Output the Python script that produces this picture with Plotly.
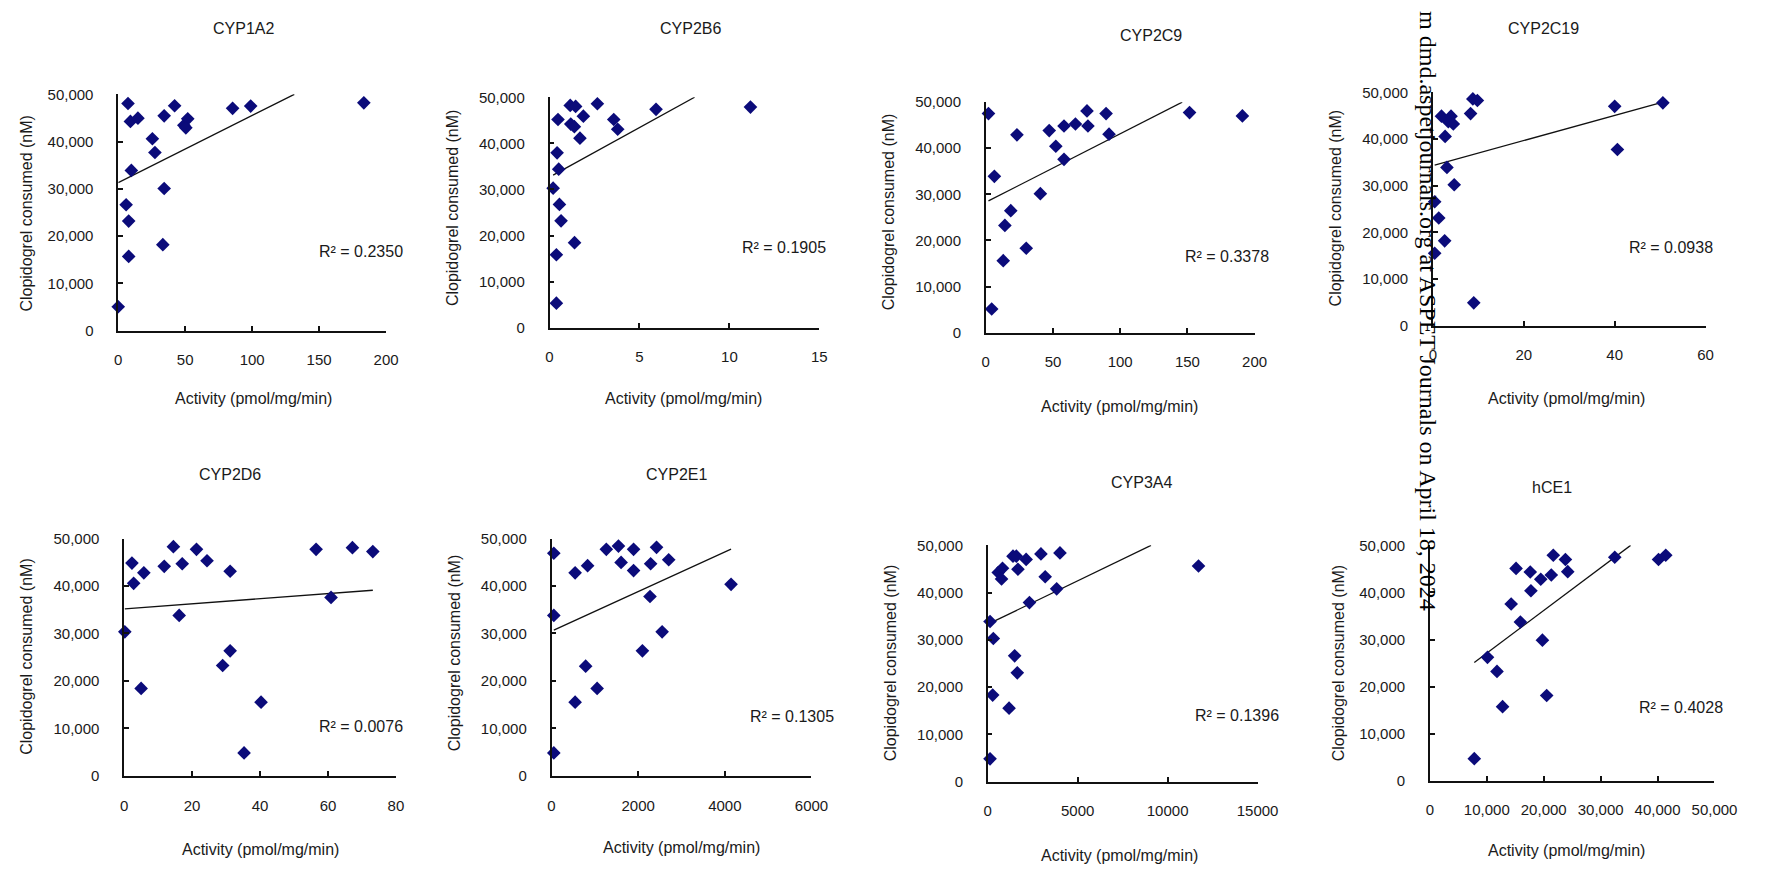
import plotly.graph_objects as go

W, H = 1768, 875

# ---------------- data ----------------
panel_titles = ["CYP1A2", "CYP2B6", "CYP2C9", "CYP2C19", "CYP2D6", "CYP2E1", "CYP3A4", "hCE1"]

x_cyp1a2 = [7.3, 9.1, 14.7, 42.1, 34.3, 25.5, 27.4, 9.8, 34.3, 5.9, 7.8, 33.3, 7.8, 0.0, 49.0, 51.9, 50.5, 85.4, 98.9, 183.4]
y_cyp1a2 = [48060, 44260, 44950, 47580, 45440, 40600, 37690, 33890, 30080, 26630, 23170, 18190, 15700, 5050, 43430, 44810, 42900, 47030, 47510, 48200]

x_cyp2b6 = [1.15, 1.45, 2.66, 1.88, 0.47, 1.18, 1.38, 1.69, 3.57, 3.79, 5.92, 11.17, 0.42, 0.51, 0.2, 0.55, 0.64, 1.39, 0.38, 0.38]
y_cyp2b6 = [48230, 48010, 48580, 45890, 45180, 44180, 43620, 41130, 45180, 43050, 47380, 47870, 37940, 34400, 30280, 26740, 23190, 18440, 15820, 5320]

x_cyp2c9 = [2, 6.4, 23.2, 18.6, 14.2, 13, 30.1, 4.4, 40.6, 47.2, 52.1, 58.2, 58.2, 66.7, 75.3, 76, 89.5, 91.7, 151.6, 190.9]
y_cyp2c9 = [47520, 33900, 42910, 26450, 23260, 15600, 18300, 5110, 30140, 43830, 40430, 44820, 37590, 45250, 48090, 44820, 47520, 43050, 47730, 47020]

x_cyp2c19 = [8.8, 9.8, 8.3, 1.9, 4.0, 3.4, 4.5, 2.7, 3.1, 4.7, 0.4, 1.3, 2.6, 0.4, 9.0, 40.0, 40.6, 50.6]
y_cyp2c19 = [48600, 48250, 45450, 44900, 44900, 43700, 43220, 40560, 33920, 30210, 26570, 23080, 18180, 15520, 4900, 47000, 37760, 47760]

x_cyp2d6 = [0.2, 2.3, 2.8, 5.8, 5.0, 11.8, 14.5, 17.1, 16.2, 21.3, 24.4, 31.2, 29.0, 31.2, 40.3, 35.3, 56.5, 60.9, 67.2, 73.2]
y_cyp2d6 = [30340, 44830, 40550, 42760, 18410, 44140, 48280, 44690, 33790, 47720, 45310, 43100, 23240, 26340, 15520, 4830, 47720, 37590, 48070, 47240]

x_cyp2e1 = [53, 53, 53, 545, 833, 545, 788, 1053, 1265, 1545, 1606, 1894, 1894, 2424, 2288, 2705, 2273, 2098, 2553, 4144]
y_cyp2e1 = [46900, 33790, 4830, 42760, 44280, 15520, 23100, 18410, 47720, 48410, 44970, 47720, 43240, 48140, 44690, 45520, 37790, 26340, 30340, 40340]

x_cyp3a4 = [128, 310, 274, 128, 584, 821, 767, 1405, 1590, 1679, 2135, 2957, 4015, 3194, 3832, 2318, 1496, 1643, 1186, 11717]
y_cyp3a4 = [33890, 30290, 18330, 4840, 44260, 45160, 42880, 47720, 47720, 44950, 47030, 48200, 48410, 43360, 40800, 37900, 26630, 23030, 15560, 45640]

x_hce1 = [7800, 10120, 11790, 12770, 14280, 15140, 15900, 17630, 17750, 19480, 19770, 20520, 21330, 21680, 23810, 24220, 32480, 40170, 41440]
y_hce1 = [4690, 26220, 23220, 15730, 37550, 45100, 33710, 44340, 40350, 42800, 29860, 18110, 43710, 47900, 46990, 44410, 47480, 46990, 47900]

trend_intercepts = [31330, 32670, 28270, 34290, 35170, 30470, 33300, 18030]
trend_slopes = [142.0, 2149, 148.7, 269, 53.7, 4.17, 1.84, 0.9067]
r2_labels = ["0.2350", "0.1905", "0.3378", "0.0938", "0.0076", "0.1305", "0.1396", "0.4028"]

x_ranges = [[0, 200], [0, 15], [0, 200], [0, 60], [0, 80], [0, 6000], [0, 15000], [0, 50000]]
x_dticks = [50, 5, 50, 20, 20, 2000, 5000, 10000]
x_formats = ["d", "d", "d", "d", "d", "d", "d", ",d"]
y_range = [0, 50000]
y_dtick = 10000

xs = [x_cyp1a2, x_cyp2b6, x_cyp2c9, x_cyp2c19, x_cyp2d6, x_cyp2e1, x_cyp3a4, x_hce1]
ys = [y_cyp1a2, y_cyp2b6, y_cyp2c9, y_cyp2c19, y_cyp2d6, y_cyp2e1, y_cyp3a4, y_hce1]

y_title = "Clopidogrel consumed (nM)"
x_title = "Activity (pmol/mg/min)"

# ---------------- layout geometry (pixels) ----------------
plot_boxes = [  # x0, x1, ytop, ybottom
    (116, 388, 87, 328), (554, 828, 90, 325), (997, 1270, 95, 330), (1451, 1728, 85, 323),
    (122, 398, 540, 782), (556, 820, 540, 782), (999, 1273, 547, 788), (1448, 1737, 547, 787),
]
title_pos = [(243, 20), (697, 20), (1165, 27), (1563, 20), (230, 475), (683, 475), (1155, 483), (1572, 488)]
ytitle_pos = [(23, 208), (455, 203), (899, 207), (1352, 203), (23, 660), (457, 657), (900, 667), (1355, 667)]
xtitle_pos = [(253, 397), (690, 397), (1133, 405), (1587, 397), (260, 857), (688, 855), (1133, 863), (1587, 858)]
r2_pos = [(407, 247), (837, 243), (1287, 252), (1738, 243), (407, 732), (845, 722), (1297, 720), (1748, 712)]


def fx(p):
    return p / W


def fy(p):
    return 1 - p / H


FONT = "Arial, 'Liberation Sans', sans-serif"
TXT = "#1a1a1a"
MARK = "#0b0b7a"

fig = go.Figure()
layout = dict(
    width=W, height=H, margin=dict(l=0, r=0, t=0, b=0),
    paper_bgcolor="white", plot_bgcolor="white", showlegend=False,
    font=dict(family=FONT, color=TXT, size=15),
)
annotations = []

for i in range(8):
    sx = "" if i == 0 else str(i + 1)
    xa, ya = "x" + sx, "y" + sx
    x0, x1, yt, yb = plot_boxes[i]
    xd, yd = xs[i], ys[i]
    b, m = trend_intercepts[i], trend_slopes[i]
    lx0 = min(xd)
    lx1 = min(max(xd), (y_range[1] - b) / m)
    fig.add_trace(go.Scatter(x=[lx0, lx1], y=[b + m * lx0, b + m * lx1], mode="lines",
                             line=dict(color="#111111", width=1.3), xaxis=xa, yaxis=ya,
                             hoverinfo="skip"))
    fig.add_trace(go.Scatter(x=xd, y=yd, mode="markers", cliponaxis=False,
                             marker=dict(symbol="diamond", size=10.5, color=MARK),
                             xaxis=xa, yaxis=ya))
    axcommon = dict(showgrid=False, zeroline=False, showline=True, linecolor="#111111",
                    linewidth=1.5, ticks="inside", ticklen=5, tickwidth=1.5, tickcolor="#111111",
                    tickfont=dict(family=FONT, size=15, color=TXT), fixedrange=True)
    layout["xaxis" + sx] = dict(axcommon, domain=[fx(x0), fx(x1)], range=x_ranges[i],
                                dtick=x_dticks[i], tick0=0, tickformat=x_formats[i],
                                anchor=ya, ticklabelstandoff=15)
    layout["yaxis" + sx] = dict(axcommon, domain=[fy(yb), fy(yt)], range=y_range,
                                dtick=y_dtick, tick0=0, tickformat=",d",
                                anchor=xa, ticklabelstandoff=20)
    tx, ty = title_pos[i]
    annotations.append(dict(text=panel_titles[i], x=fx(tx), y=fy(ty), xref="paper", yref="paper",
                            showarrow=False, xanchor="center", yanchor="middle",
                            font=dict(family=FONT, size=16, color=TXT)))
    px_, py_ = ytitle_pos[i]
    annotations.append(dict(text=y_title, x=fx(px_), y=fy(py_), xref="paper", yref="paper",
                            showarrow=False, textangle=-90, xanchor="center", yanchor="middle",
                            font=dict(family=FONT, size=16, color=TXT)))
    qx, qy = xtitle_pos[i]
    annotations.append(dict(text=x_title, x=fx(qx), y=fy(qy), xref="paper", yref="paper",
                            showarrow=False, xanchor="center", yanchor="middle",
                            font=dict(family=FONT, size=16, color=TXT)))
    rx, ry = r2_pos[i]
    annotations.append(dict(text="R\u00b2 = " + r2_labels[i], x=fx(rx), y=fy(ry),
                            xref="paper", yref="paper", showarrow=False,
                            xanchor="right", yanchor="middle",
                            font=dict(family=FONT, size=16, color=TXT)))

# vertical download watermark
annotations.append(dict(text="m dmd.aspetjournals.org at ASPET Journals on April 18, 2024",
                        x=fx(1446), y=fy(0), xref="paper", yref="paper", showarrow=False,
                        textangle=90, xanchor="center", yanchor="top",
                        font=dict(family="'Liberation Serif', 'Times New Roman', serif",
                                  size=24, color="#000000")))

layout["annotations"] = annotations
fig.update_layout(**layout)
fig.write_html("out.html")
